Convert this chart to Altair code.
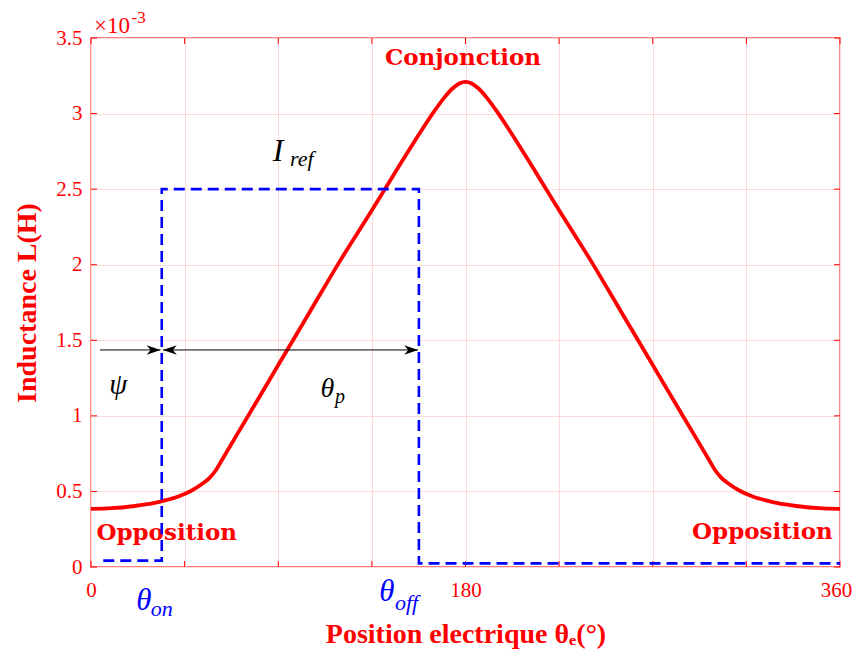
import altair as alt
import pandas as pd

# ---------------- data ----------------
# Inductance profile (units of 1e-3 H) vs electrical position (deg)
theta_deg = [0, 10, 20, 30, 36, 42, 48, 53, 57, 60, 63, 75, 90, 105, 120, 135,
             140, 145, 150, 155, 160, 165, 170, 174, 177, 180,
             183, 186, 190, 195, 200, 205, 210, 215, 220, 225, 240, 255, 270, 285,
             297, 300, 303, 307, 312, 318, 324, 330, 340, 350, 360]
inductance = [0.384, 0.389, 0.402, 0.422, 0.442, 0.467, 0.503, 0.546, 0.590, 0.640, 0.710,
              0.988, 1.336, 1.684, 2.032, 2.360,
              2.472, 2.584, 2.696, 2.806, 2.913, 3.016, 3.109, 3.169, 3.199, 3.210,
              3.199, 3.169, 3.109, 3.016, 2.913, 2.806, 2.696, 2.584, 2.472, 2.360,
              2.032, 1.684, 1.336, 0.988,
              0.710, 0.640, 0.590, 0.546, 0.503, 0.467, 0.442, 0.422, 0.402, 0.389, 0.384]

# Current reference pulse (dashed)
theta_on = 34.0
theta_off = 157.6
pulse_theta = [5.9, theta_on, theta_on, theta_off, theta_off, 360]
pulse_level = [0.042, 0.042, 2.5, 2.5, 0.024, 0.024]

# Dimension arrows
arrow_level = 1.436
psi_start, psi_end = 4.3, 33.4
thp_start, thp_end = 34.6, 157.2

# Axis ticks
x_ticks = [0, 45, 90, 135, 180, 225, 270, 315, 360]
y_ticks = [0, 0.5, 1, 1.5, 2, 2.5, 3, 3.5]

# Annotation texts (data coordinates)
bold_labels = ["Conjonction", "Opposition", "Opposition"]
bold_theta = [178.8, 36.4, 322.7]
bold_L = [3.369, 0.225, 0.232]

W, H = 749, 529
RED = "#ff0000"
BLUE = "#0000ff"
SERIF = "Liberation Serif"

xs = alt.Scale(domain=[0, 360], nice=False, zero=False)
ys = alt.Scale(domain=[0, 3.5], nice=False, zero=False)

curve_df = pd.DataFrame({"theta": theta_deg, "L": inductance})
pulse_df = pd.DataFrame({"theta": pulse_theta, "L": pulse_level,
                         "idx": list(range(len(pulse_theta)))})

x_axis = alt.Axis(values=x_ticks,
                  labelExpr="datum.value % 180 == 0 ? datum.label : ''",
                  grid=True, gridColor="#fbdada", gridWidth=1,
                  ticks=False, domain=False,
                  labelColor=RED, labelFont=SERIF, labelFontSize=21,
                  labelPadding=12, labelFlush=False,
                  labelOffset={"condition": {"test": "datum.value == 360", "value": -4},
                               "value": 0},
                  title="Position electrique θₑ(°)", titleColor=RED,
                  titleFont=SERIF, titleFontSize=28, titleFontWeight="bold",
                  titlePadding=20)
y_axis = alt.Axis(values=y_ticks, format="~g",
                  grid=True, gridColor="#fbdada", gridWidth=1,
                  ticks=False, domain=False,
                  labelColor=RED, labelFont=SERIF, labelFontSize=21,
                  labelPadding=9, labelFlush=False,
                  title="Inductance L(H)", titleColor=RED,
                  titleFont=SERIF, titleFontSize=28, titleFontWeight="bold",
                  titlePadding=14)

base_curve = alt.Chart(curve_df).mark_line(
    color=RED, strokeWidth=3.8, interpolate="monotone"
).encode(
    x=alt.X("theta:Q", scale=xs, axis=x_axis),
    y=alt.Y("L:Q", scale=ys, axis=y_axis),
)

pulse = alt.Chart(pulse_df).mark_line(
    color=BLUE, strokeWidth=2.6, strokeDash=[11, 6]
).encode(
    x=alt.X("theta:Q", scale=xs),
    y=alt.Y("L:Q", scale=ys),
    order="idx:Q",
)

# inner ticks (box style)
xt_df = pd.DataFrame({"theta": x_ticks})
yt_df = pd.DataFrame({"L": y_ticks})
tick_bottom = alt.Chart(xt_df).mark_rule(color=RED, strokeWidth=1).encode(
    x=alt.X("theta:Q", scale=xs), y=alt.value(H), y2=alt.value(H - 6))
tick_top = alt.Chart(xt_df).mark_rule(color=RED, strokeWidth=1).encode(
    x=alt.X("theta:Q", scale=xs), y=alt.value(0), y2=alt.value(6))
tick_left = alt.Chart(yt_df).mark_rule(color=RED, strokeWidth=1).encode(
    y=alt.Y("L:Q", scale=ys), x=alt.value(0), x2=alt.value(6))
tick_right = alt.Chart(yt_df).mark_rule(color=RED, strokeWidth=1).encode(
    y=alt.Y("L:Q", scale=ys), x=alt.value(W), x2=alt.value(W - 6))

# arrows
arr_df = pd.DataFrame({"x1": [psi_start, thp_start], "x2": [psi_end, thp_end],
                       "L": [arrow_level, arrow_level]})
arrow_lines = alt.Chart(arr_df).mark_rule(color="black", strokeWidth=1).encode(
    x=alt.X("x1:Q", scale=xs), x2="x2:Q", y=alt.Y("L:Q", scale=ys))
right_heads = pd.DataFrame({"theta": [psi_end, thp_end], "L": [arrow_level, arrow_level]})
left_heads = pd.DataFrame({"theta": [thp_start], "L": [arrow_level]})
head_r = alt.Chart(right_heads).mark_point(
    shape="M0,0L-1,-0.34L-0.72,0L-1,0.34Z", filled=True, color="black",
    size=760, opacity=1, strokeWidth=0
).encode(x=alt.X("theta:Q", scale=xs), y=alt.Y("L:Q", scale=ys))
head_l = alt.Chart(left_heads).mark_point(
    shape="M0,0L1,-0.34L0.72,0L1,0.34Z", filled=True, color="black",
    size=760, opacity=1, strokeWidth=0
).encode(x=alt.X("theta:Q", scale=xs), y=alt.Y("L:Q", scale=ys))


def txt(text, theta, L, **kw):
    df = pd.DataFrame({"t": [text], "theta": [theta], "L": [L]})
    return alt.Chart(df).mark_text(**kw).encode(
        x=alt.X("theta:Q", scale=xs), y=alt.Y("L:Q", scale=ys), text="t:N")


def txt_px(text, theta, ypx, **kw):
    df = pd.DataFrame({"t": [text], "theta": [theta]})
    return alt.Chart(df).mark_text(**kw).encode(
        x=alt.X("theta:Q", scale=xs), y=alt.value(ypx), text="t:N")


bold_layers = [
    txt(t, th, l, font="DejaVu Serif", fontWeight="bold", fontSize=23,
        color=RED, align="center", baseline="middle")
    for t, th, l in zip(bold_labels, bold_theta, bold_L)
]

math_layers = [
    txt("I", 89.9, 2.753, font=SERIF, fontStyle="italic", fontSize=32,
        color="black", align="center", baseline="middle"),
    txt("ref", 95.6, 2.70, font=SERIF, fontStyle="italic", fontSize=22,
        color="black", align="left", baseline="middle"),
    txt("ψ", 13.1, 1.204, font=SERIF, fontStyle="italic", fontSize=29,
        color="black", align="center", baseline="middle"),
    txt("θ", 113.6, 1.18, font=SERIF, fontStyle="italic", fontSize=28,
        color="black", align="center", baseline="middle"),
    txt("p", 117.3, 1.122, font=SERIF, fontStyle="italic", fontSize=20,
        color="black", align="left", baseline="middle"),
    txt_px("θ", theta_on, 563, font=SERIF, fontStyle="italic", fontSize=31,
           color=BLUE, align="center", baseline="middle", dx=-18),
    txt_px("on", theta_on, 571, font=SERIF, fontStyle="italic", fontSize=22,
           color=BLUE, align="left", baseline="middle", dx=-11),
    txt_px("θ", theta_off, 553.5, font=SERIF, fontStyle="italic", fontSize=31,
           color=BLUE, align="center", baseline="middle", dx=-32),
    txt_px("off", theta_off, 565, font=SERIF, fontStyle="italic", fontSize=22,
           color=BLUE, align="left", baseline="middle", dx=-24),
]

exp_df = pd.DataFrame({"t": ["×10"]})
exp_df2 = pd.DataFrame({"t": ["-3"]})
exp1 = alt.Chart(exp_df).mark_text(font=SERIF, fontSize=23, color=RED,
                                   align="left", baseline="middle").encode(
    x=alt.value(3), y=alt.value(-12), text="t:N")
exp2 = alt.Chart(exp_df2).mark_text(font=SERIF, fontSize=17, color=RED,
                                    align="left", baseline="middle").encode(
    x=alt.value(40.5), y=alt.value(-20), text="t:N")

chart = alt.layer(
    tick_bottom, tick_top, tick_left, tick_right,
    *bold_layers,
    base_curve, pulse,
    arrow_lines, head_r, head_l,
    *math_layers, exp1, exp2,
).properties(
    width=W, height=H,
    padding={"left": 83, "top": 30, "right": 12, "bottom": 85},
    autosize=alt.AutoSizeParams(type="none"),
).configure_view(stroke=RED, strokeWidth=1.3)

chart.save("out.html", embed_options={"renderer": "svg", "actions": False})
